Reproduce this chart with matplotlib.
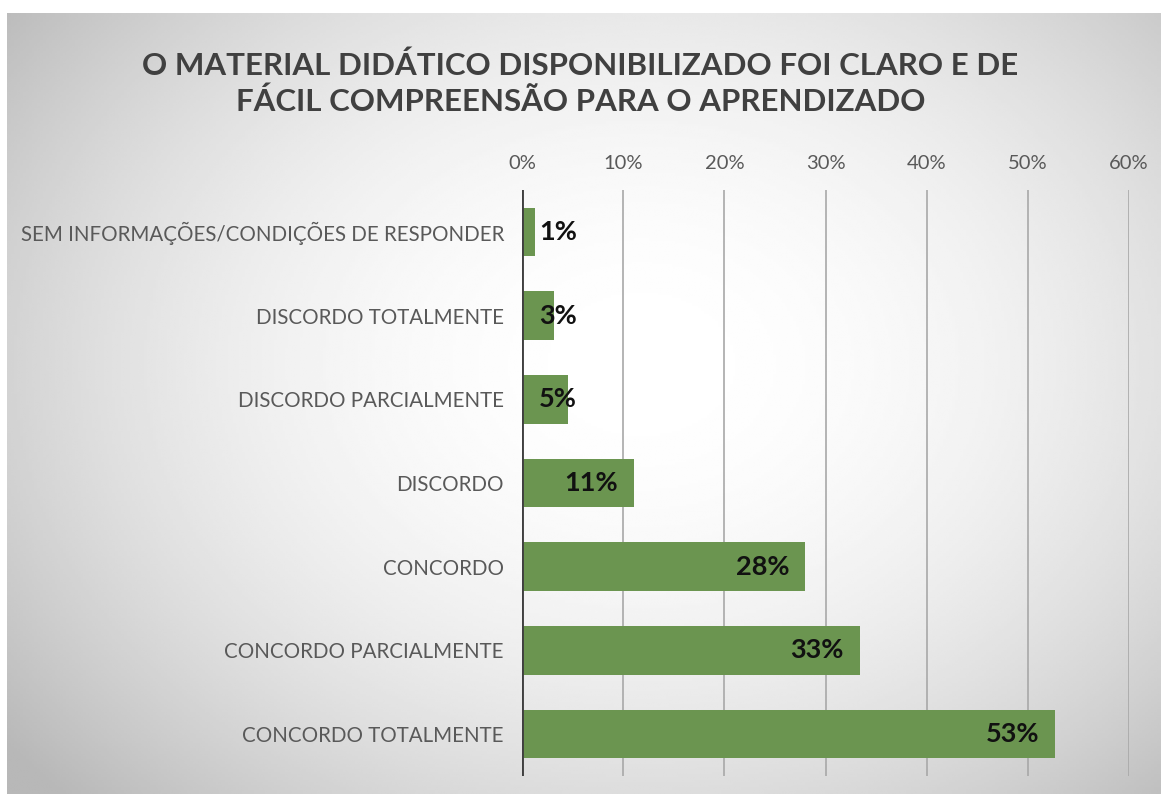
import matplotlib.pyplot as plt
import numpy as np

# data
categories = [
    'CONCORDO TOTALMENTE',
    'CONCORDO PARCIALMENTE',
    'CONCORDO',
    'DISCORDO',
    'DISCORDO PARCIALMENTE',
    'DISCORDO TOTALMENTE',
    'SEM INFORMAÇÕES/CONDIÇÕES DE RESPONDER',
]
values = [52.7, 33.4, 28.0, 11.1, 4.5, 3.2, 1.3]
value_labels = ['53%', '33%', '28%', '11%', '5%', '3%', '1%']
ticks = [0, 10, 20, 30, 40, 50, 60]
tick_labels = ['0%', '10%', '20%', '30%', '40%', '50%', '60%']
title = 'O MATERIAL DIDÁTICO DISPONIBILIZADO FOI CLARO E DE\nFÁCIL COMPREENSÃO PARA O APRENDIZADO'

plt.rcParams['font.family'] = ['Lato', 'DejaVu Sans']

W, H = 1161, 794
fig = plt.figure(figsize=(W / 100, H / 100), dpi=100)
fig.patch.set_facecolor('white')

# radial gradient background of the chart box
bg = fig.add_axes([7 / W, 0, 1 - 7 / W, 1 - 13 / H])
yy, xx = np.mgrid[0:1:300j, 0:1:400j]
r2 = ((xx - 0.55) / 0.75) ** 2 + ((yy - 0.45) / 0.85) ** 2
shade = np.clip(1.0 - 0.32 * r2, 0.72, 1.0)
bg.imshow(shade, cmap='gray', vmin=0, vmax=1, aspect='auto', extent=[0, 1, 0, 1],
          interpolation='bilinear')
bg.set_axis_off()

ax = fig.add_axes([522 / W, 18 / H, (1129 - 522) / W, 586 / H])
ax.patch.set_alpha(0)
y = np.arange(len(categories))
ax.barh(y, values, height=0.58, color='#6b9550', zorder=2)
ax.set_xlim(0, 60)
ax.set_ylim(-0.5, len(categories) - 0.5)

ax.set_xticks(ticks)
ax.set_xticklabels(tick_labels)
ax.xaxis.tick_top()
ax.tick_params(axis='x', length=0, pad=13, labelsize=14.5, labelcolor='#595959')
ax.set_yticks(y)
ax.set_yticklabels(categories)
ax.tick_params(axis='y', length=0, pad=13, labelsize=14.8, labelcolor='#595959')

ax.grid(axis='x', color='#a8a8a8', linewidth=1.2, zorder=0)
ax.axvline(0, color='#404040', linewidth=2.8, zorder=3)
for s in ax.spines.values():
    s.set_visible(False)

for yi, v, lab in zip(y, values, value_labels):
    xr = max(v - 1.6, 5.45)
    ax.text(xr, yi, lab, ha='right', va='center', fontsize=19.5, fontweight='bold',
            color='#111111', zorder=4)

fig.text(0.5, 1 - 84 / H, title, ha='center', va='center', fontsize=22.5,
         fontweight='bold', color='#404040', linespacing=1.3)

fig.savefig('out.png', dpi=100)
